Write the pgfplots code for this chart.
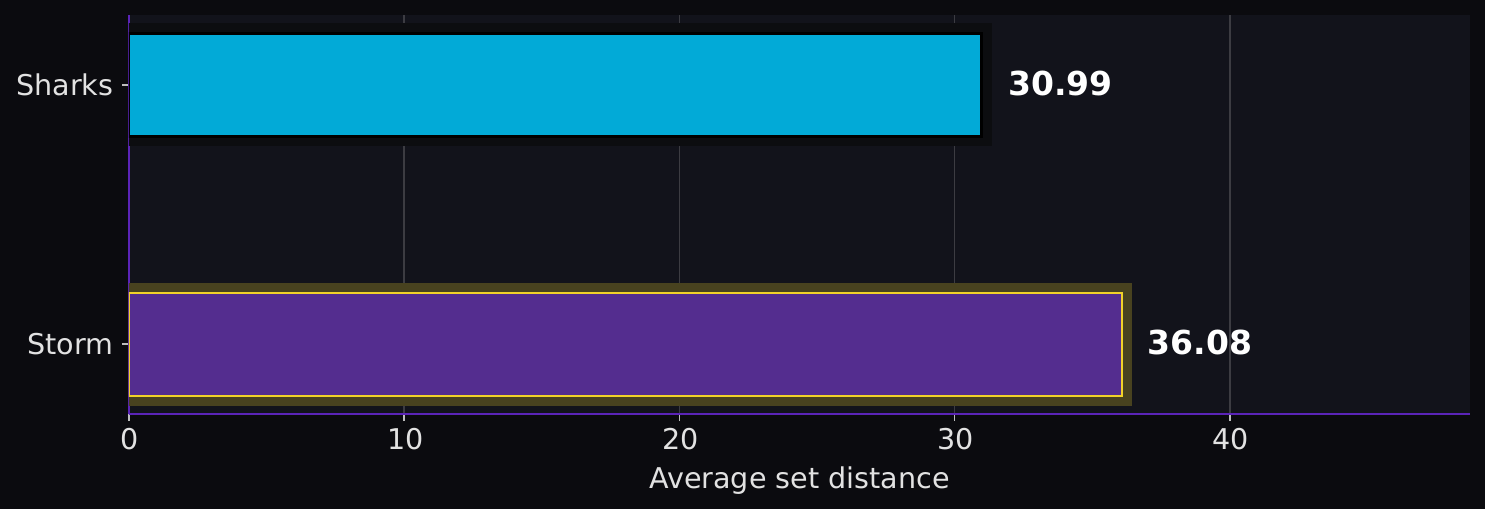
\documentclass[border=0pt]{standalone}
\usepackage{pgfplots}
\pgfplotsset{compat=1.18}
\usepackage{fontspec}
\setmainfont{DejaVu Sans}

\definecolor{figbg}{HTML}{0B0B0F}
\definecolor{axbg}{HTML}{12131B}
\definecolor{spine}{HTML}{5B24B8}
\definecolor{gridc}{HTML}{3C3C42}
\definecolor{tickc}{HTML}{BDBDBD}
\definecolor{labc}{HTML}{E2E2E2}
\definecolor{sharks}{HTML}{02AAD7}
\definecolor{storm}{HTML}{542D8F}
\definecolor{stormedge}{HTML}{F2D22A}
\definecolor{stormhalo}{HTML}{48421F}
\definecolor{sharkshalo}{HTML}{0C0D10}

% bars below the axis lines, grid below the bars
\pgfplotsset{
  layers/barsbelow/.define layer set={axis background,axis grid,main,axis ticks,axis lines,axis tick labels,axis descriptions,axis foreground}{},
}

\begin{document}
\begin{tikzpicture}
\fill[figbg] (-64.5pt,-47.5pt) rectangle (678pt,207pt);
\begin{axis}[
  set layers=barsbelow,
  scale only axis,
  width=670.5pt,
  height=199.5pt,
  at={(0,0)},
  anchor=south west,
  axis background/.style={fill=axbg},
  xbar,
  bar shift=0pt,
  xmin=0, xmax=48.72,
  ymin=-0.27, ymax=1.27,
  axis x line*=bottom,
  axis y line*=left,
  axis line style={draw=spine, line width=1.1pt, -},
  xtick={0,10,20,30,40},
  ytick={0,1},
  yticklabels={Storm,Sharks},
  tick align=outside,
  major tick length=3.5pt,
  tick style={draw=tickc, line width=0.75pt},
  xmajorgrids=true,
  major grid style={draw=gridc, line width=0.75pt},
  /pgf/number format/assume math mode=true,
  tick label style={font=\fontsize{14.3}{17}\selectfont, text=labc},
  yticklabel style={xshift=-0.8pt},
  xticklabel style={xshift=0.5pt},
  xlabel={Average set distance},
  xlabel style={font=\fontsize{14.3}{17}\selectfont, text=labc, yshift=-1.5pt},
  nodes near coords,
  point meta=explicit symbolic,
  every node near coord/.style={anchor=west, inner sep=0pt, xshift=12.3pt, yshift=0.8pt,
    font=\fontsize{16.5}{19}\selectfont\bfseries, text=white},
]
% halos behind the bars
\addplot[bar width=51.5pt, fill=sharkshalo, draw=sharkshalo, line width=10pt, nodes near coords={}] coordinates {(30.99,1)};
\addplot[bar width=51.5pt, fill=stormhalo, draw=stormhalo, line width=10pt, nodes near coords={}] coordinates {(36.08,0)};
% bars
\addplot[bar width=51.5pt, fill=sharks, draw=black, line width=1.5pt] coordinates {(30.99,1) [30.99]};
\addplot[bar width=51.5pt, fill=storm, draw=stormedge, line width=1pt] coordinates {(36.08,0) [36.08]};
\end{axis}
\pgfresetboundingbox
\path (-64.5pt,-47.5pt) rectangle (678pt,207pt);
\end{tikzpicture}
\end{document}
